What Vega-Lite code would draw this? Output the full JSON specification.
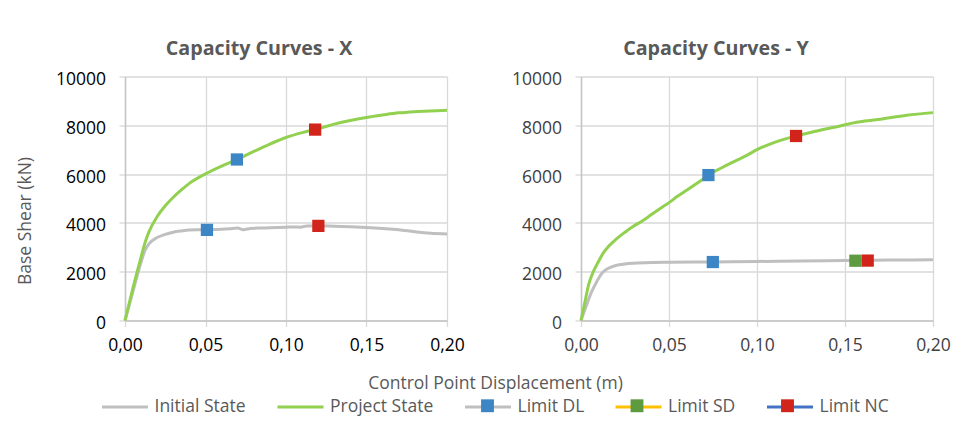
{
  "$schema": "https://vega.github.io/schema/vega-lite/v6.json",
  "padding": {"left": 16, "top": 38.5, "right": 0, "bottom": 0},
  "bounds": "flush",
  "spacing": 134,
  "background": "white",
  "datasets": {
    "curves": [
      {"panel": "X", "curve": "Initial State", "d": 0, "v": 0},
      {"panel": "X", "curve": "Initial State", "d": 0.005, "v": 1200},
      {"panel": "X", "curve": "Initial State", "d": 0.01, "v": 2400},
      {"panel": "X", "curve": "Initial State", "d": 0.0125, "v": 2880},
      {"panel": "X", "curve": "Initial State", "d": 0.015, "v": 3150},
      {"panel": "X", "curve": "Initial State", "d": 0.02, "v": 3400},
      {"panel": "X", "curve": "Initial State", "d": 0.025, "v": 3530},
      {"panel": "X", "curve": "Initial State", "d": 0.03, "v": 3620},
      {"panel": "X", "curve": "Initial State", "d": 0.035, "v": 3670},
      {"panel": "X", "curve": "Initial State", "d": 0.04, "v": 3705},
      {"panel": "X", "curve": "Initial State", "d": 0.045, "v": 3715},
      {"panel": "X", "curve": "Initial State", "d": 0.05, "v": 3715},
      {"panel": "X", "curve": "Initial State", "d": 0.055, "v": 3730},
      {"panel": "X", "curve": "Initial State", "d": 0.06, "v": 3740},
      {"panel": "X", "curve": "Initial State", "d": 0.065, "v": 3760},
      {"panel": "X", "curve": "Initial State", "d": 0.07, "v": 3790},
      {"panel": "X", "curve": "Initial State", "d": 0.0735, "v": 3720},
      {"panel": "X", "curve": "Initial State", "d": 0.078, "v": 3775},
      {"panel": "X", "curve": "Initial State", "d": 0.085, "v": 3790},
      {"panel": "X", "curve": "Initial State", "d": 0.09, "v": 3800},
      {"panel": "X", "curve": "Initial State", "d": 0.1, "v": 3825},
      {"panel": "X", "curve": "Initial State", "d": 0.105, "v": 3835},
      {"panel": "X", "curve": "Initial State", "d": 0.109, "v": 3825},
      {"panel": "X", "curve": "Initial State", "d": 0.113, "v": 3875},
      {"panel": "X", "curve": "Initial State", "d": 0.12, "v": 3880},
      {"panel": "X", "curve": "Initial State", "d": 0.13, "v": 3860},
      {"panel": "X", "curve": "Initial State", "d": 0.14, "v": 3840},
      {"panel": "X", "curve": "Initial State", "d": 0.15, "v": 3810},
      {"panel": "X", "curve": "Initial State", "d": 0.16, "v": 3770},
      {"panel": "X", "curve": "Initial State", "d": 0.17, "v": 3720},
      {"panel": "X", "curve": "Initial State", "d": 0.18, "v": 3640},
      {"panel": "X", "curve": "Initial State", "d": 0.19, "v": 3580},
      {"panel": "X", "curve": "Initial State", "d": 0.2, "v": 3550},
      {"panel": "X", "curve": "Project State", "d": 0, "v": 0},
      {"panel": "X", "curve": "Project State", "d": 0.005, "v": 1350},
      {"panel": "X", "curve": "Project State", "d": 0.01, "v": 2600},
      {"panel": "X", "curve": "Project State", "d": 0.0125, "v": 3200},
      {"panel": "X", "curve": "Project State", "d": 0.015, "v": 3650},
      {"panel": "X", "curve": "Project State", "d": 0.02, "v": 4260},
      {"panel": "X", "curve": "Project State", "d": 0.025, "v": 4700},
      {"panel": "X", "curve": "Project State", "d": 0.03, "v": 5050},
      {"panel": "X", "curve": "Project State", "d": 0.035, "v": 5350},
      {"panel": "X", "curve": "Project State", "d": 0.04, "v": 5620},
      {"panel": "X", "curve": "Project State", "d": 0.05, "v": 6010},
      {"panel": "X", "curve": "Project State", "d": 0.06, "v": 6330},
      {"panel": "X", "curve": "Project State", "d": 0.07, "v": 6610},
      {"panel": "X", "curve": "Project State", "d": 0.08, "v": 6930},
      {"panel": "X", "curve": "Project State", "d": 0.09, "v": 7230},
      {"panel": "X", "curve": "Project State", "d": 0.1, "v": 7500},
      {"panel": "X", "curve": "Project State", "d": 0.11, "v": 7700},
      {"panel": "X", "curve": "Project State", "d": 0.12, "v": 7860},
      {"panel": "X", "curve": "Project State", "d": 0.13, "v": 8050},
      {"panel": "X", "curve": "Project State", "d": 0.14, "v": 8200},
      {"panel": "X", "curve": "Project State", "d": 0.15, "v": 8320},
      {"panel": "X", "curve": "Project State", "d": 0.16, "v": 8420},
      {"panel": "X", "curve": "Project State", "d": 0.17, "v": 8510},
      {"panel": "X", "curve": "Project State", "d": 0.18, "v": 8560},
      {"panel": "X", "curve": "Project State", "d": 0.19, "v": 8590},
      {"panel": "X", "curve": "Project State", "d": 0.2, "v": 8612},
      {"panel": "Y", "curve": "Initial State", "d": 0, "v": 0},
      {"panel": "Y", "curve": "Initial State", "d": 0.003, "v": 600},
      {"panel": "Y", "curve": "Initial State", "d": 0.006, "v": 1170},
      {"panel": "Y", "curve": "Initial State", "d": 0.009, "v": 1600},
      {"panel": "Y", "curve": "Initial State", "d": 0.012, "v": 1950},
      {"panel": "Y", "curve": "Initial State", "d": 0.015, "v": 2120},
      {"panel": "Y", "curve": "Initial State", "d": 0.02, "v": 2260},
      {"panel": "Y", "curve": "Initial State", "d": 0.025, "v": 2315},
      {"panel": "Y", "curve": "Initial State", "d": 0.03, "v": 2345},
      {"panel": "Y", "curve": "Initial State", "d": 0.04, "v": 2375},
      {"panel": "Y", "curve": "Initial State", "d": 0.05, "v": 2385},
      {"panel": "Y", "curve": "Initial State", "d": 0.075, "v": 2400},
      {"panel": "Y", "curve": "Initial State", "d": 0.1, "v": 2420},
      {"panel": "Y", "curve": "Initial State", "d": 0.125, "v": 2440},
      {"panel": "Y", "curve": "Initial State", "d": 0.15, "v": 2460},
      {"panel": "Y", "curve": "Initial State", "d": 0.175, "v": 2475},
      {"panel": "Y", "curve": "Initial State", "d": 0.2, "v": 2485},
      {"panel": "Y", "curve": "Project State", "d": 0, "v": 0},
      {"panel": "Y", "curve": "Project State", "d": 0.0025, "v": 850},
      {"panel": "Y", "curve": "Project State", "d": 0.0043, "v": 1460},
      {"panel": "Y", "curve": "Project State", "d": 0.007, "v": 2000},
      {"panel": "Y", "curve": "Project State", "d": 0.01, "v": 2425},
      {"panel": "Y", "curve": "Project State", "d": 0.0125, "v": 2750},
      {"panel": "Y", "curve": "Project State", "d": 0.0157, "v": 3040},
      {"panel": "Y", "curve": "Project State", "d": 0.02, "v": 3340},
      {"panel": "Y", "curve": "Project State", "d": 0.025, "v": 3620},
      {"panel": "Y", "curve": "Project State", "d": 0.03, "v": 3870},
      {"panel": "Y", "curve": "Project State", "d": 0.035, "v": 4090},
      {"panel": "Y", "curve": "Project State", "d": 0.04, "v": 4340},
      {"panel": "Y", "curve": "Project State", "d": 0.045, "v": 4590},
      {"panel": "Y", "curve": "Project State", "d": 0.05, "v": 4830},
      {"panel": "Y", "curve": "Project State", "d": 0.055, "v": 5100},
      {"panel": "Y", "curve": "Project State", "d": 0.06, "v": 5340},
      {"panel": "Y", "curve": "Project State", "d": 0.065, "v": 5580},
      {"panel": "Y", "curve": "Project State", "d": 0.07, "v": 5830},
      {"panel": "Y", "curve": "Project State", "d": 0.0724, "v": 5960},
      {"panel": "Y", "curve": "Project State", "d": 0.08, "v": 6260},
      {"panel": "Y", "curve": "Project State", "d": 0.0876, "v": 6535},
      {"panel": "Y", "curve": "Project State", "d": 0.095, "v": 6800},
      {"panel": "Y", "curve": "Project State", "d": 0.1, "v": 7000},
      {"panel": "Y", "curve": "Project State", "d": 0.11, "v": 7300},
      {"panel": "Y", "curve": "Project State", "d": 0.1222, "v": 7562},
      {"panel": "Y", "curve": "Project State", "d": 0.134, "v": 7768},
      {"panel": "Y", "curve": "Project State", "d": 0.1472, "v": 7974},
      {"panel": "Y", "curve": "Project State", "d": 0.1548, "v": 8100},
      {"panel": "Y", "curve": "Project State", "d": 0.1699, "v": 8245},
      {"panel": "Y", "curve": "Project State", "d": 0.1851, "v": 8409},
      {"panel": "Y", "curve": "Project State", "d": 0.2, "v": 8520}
    ],
    "limits": [
      {"panel": "X", "limit": "Limit DL", "d": 0.0509, "v": 3714},
      {"panel": "X", "limit": "Limit NC", "d": 0.1201, "v": 3878},
      {"panel": "X", "limit": "Limit DL", "d": 0.0695, "v": 6599},
      {"panel": "X", "limit": "Limit NC", "d": 0.1181, "v": 7824},
      {"panel": "Y", "limit": "Limit DL", "d": 0.0749, "v": 2396},
      {"panel": "Y", "limit": "Limit SD", "d": 0.1559, "v": 2450},
      {"panel": "Y", "limit": "Limit NC", "d": 0.1629, "v": 2455},
      {"panel": "Y", "limit": "Limit DL", "d": 0.0724, "v": 5960},
      {"panel": "Y", "limit": "Limit NC", "d": 0.1222, "v": 7562}
    ]
  },
  "config": {
    "font": "Open Sans",
    "view": {"stroke": null},
    "axis": {
      "gridColor": "#D9D9D9",
      "gridWidth": 1.3,
      "domainColor": "#C4C4C4",
      "domainWidth": 1.5,
      "tickColor": "#D9D9D9",
      "tickWidth": 1.3,
      "tickSize": 6,
      "labelFont": "Open Sans",
      "labelFontSize": 17.5,
      "titleFont": "Open Sans",
      "titleFontSize": 17.5,
      "titleFontWeight": "normal",
      "titleColor": "#595959"
    },
    "title": {"font": "Open Sans", "fontSize": 19.7, "fontWeight": "bold", "color": "#595959", "baseline": "alphabetic", "offset": 11.5, "anchor": "middle", "frame": "group"}
  },
  "hconcat": [
    {
      "width": 322,
      "height": 244,
      "title": {"text": "Capacity Curves - X", "dx": -27},
      "layer": [
        {
          "data": {"name": "curves"},
          "transform": [{"filter": "datum.panel === 'X'"}],
          "mark": {"type": "line", "strokeWidth": 3, "interpolate": "monotone"},
          "encoding": {
            "x": {"field": "d", "type": "quantitative", "scale": {"domain": [0, 0.2], "nice": false},
              "axis": {"values": [0, 0.05, 0.1, 0.15, 0.2], "labelExpr": "replace(format(datum.value, '.2f'), '.', ',')", "labelColor": "#000000", "labelPadding": 10, "labelFlush": false,
                "title": "Control Point Displacement (m)", "titleX": 370, "titleY": 68, "titleBaseline": "alphabetic"}},
            "y": {"field": "v", "type": "quantitative", "scale": {"domain": [0, 10000], "nice": false},
              "axis": {"values": [0, 2000, 4000, 6000, 8000, 10000], "format": "d", "labelColor": "#000000", "labelPadding": 13.5, "labelOffset": 3,
                "title": "Base Shear (kN)", "titleX": -100, "titleY": 144, "titleBaseline": "middle"}},
            "stroke": {"field": "curve", "type": "nominal",
              "scale": {"domain": ["Initial State", "Project State", "Limit DL", "Limit SD", "Limit NC"], "range": ["#BFBFBF", "#92D050", "#BFBFBF", "#FFC000", "#4472C4"]},
              "legend": {"orient": "none", "legendX": -24.5, "legendY": 306, "direction": "horizontal", "columns": 5, "title": null, "symbolType": "stroke", "symbolSize": 2116, "symbolStrokeWidth": 3, "labelFontSize": 17.5, "labelFont": "Open Sans", "labelColor": "#595959", "labelOffset": 5, "columnPadding": 24.5, "padding": 0, "labelLimit": 300}}
          }
        },
        {
          "data": {"name": "limits"},
          "transform": [{"filter": "datum.panel === 'X'"}],
          "mark": {"type": "square", "size": 150, "filled": true, "opacity": 1, "strokeWidth": 0},
          "encoding": {
            "x": {"field": "d", "type": "quantitative"},
            "y": {"field": "v", "type": "quantitative"},
            "fill": {"field": "limit", "type": "nominal",
              "scale": {"domain": ["Initial State", "Project State", "Limit DL", "Limit SD", "Limit NC", "none"], "range": ["rgba(0,0,0,0)", "rgba(0,0,0,0)", "#3C86C5", "#5E9A3F", "#D1241A", "rgba(0,0,0,0)"]},
              "legend": {"orient": "none", "legendX": -21.5, "legendY": 306, "direction": "horizontal", "columns": 5, "title": null, "values": ["Initial State", "Project State", "Limit DL", "Limit SD", "Limit NC"], "symbolType": "M-0.28,-0.28H0.28V0.28H-0.28Z", "symbolSize": 2116, "symbolStrokeWidth": 0, "labelFontSize": 17.5, "labelFont": "Open Sans", "labelColor": "rgba(0,0,0,0)", "labelOffset": 5, "columnPadding": 31.5, "padding": 0, "labelLimit": 300, "zindex": 2}}
          }
        }
      ]
    },
    {
      "width": 352,
      "height": 244,
      "title": {"text": "Capacity Curves - Y", "dx": -41},
      "layer": [
        {
          "data": {"name": "curves"},
          "transform": [{"filter": "datum.panel === 'Y'"}],
          "mark": {"type": "line", "strokeWidth": 3, "interpolate": "monotone"},
          "encoding": {
            "x": {"field": "d", "type": "quantitative", "scale": {"domain": [0, 0.2], "nice": false},
              "axis": {"values": [0, 0.05, 0.1, 0.15, 0.2], "labelExpr": "replace(format(datum.value, '.2f'), '.', ',')", "labelColor": "#404040", "labelPadding": 10, "labelFlush": false, "title": null}},
            "y": {"field": "v", "type": "quantitative", "scale": {"domain": [0, 10000], "nice": false},
              "axis": {"values": [0, 2000, 4000, 6000, 8000, 10000], "format": "d", "labelColor": "#404040", "labelPadding": 13.5, "labelOffset": 3, "title": null}},
            "stroke": {"field": "curve", "type": "nominal",
              "scale": {"domain": ["Initial State", "Project State", "Limit DL", "Limit SD", "Limit NC"], "range": ["#BFBFBF", "#92D050", "#BFBFBF", "#FFC000", "#4472C4"]},
              "legend": {"orient": "none", "legendX": -24.5, "legendY": 306, "direction": "horizontal", "columns": 5, "title": null, "symbolType": "stroke", "symbolSize": 2116, "symbolStrokeWidth": 3, "labelFontSize": 17.5, "labelFont": "Open Sans", "labelColor": "#595959", "labelOffset": 5, "columnPadding": 24.5, "padding": 0, "labelLimit": 300}}
          }
        },
        {
          "data": {"name": "limits"},
          "transform": [{"filter": "datum.panel === 'Y'"}],
          "mark": {"type": "square", "size": 150, "filled": true, "opacity": 1, "strokeWidth": 0},
          "encoding": {
            "x": {"field": "d", "type": "quantitative"},
            "y": {"field": "v", "type": "quantitative"},
            "fill": {"field": "limit", "type": "nominal",
              "scale": {"domain": ["Initial State", "Project State", "Limit DL", "Limit SD", "Limit NC", "none"], "range": ["rgba(0,0,0,0)", "rgba(0,0,0,0)", "#3C86C5", "#5E9A3F", "#D1241A", "rgba(0,0,0,0)"]},
              "legend": {"orient": "none", "legendX": -21.5, "legendY": 306, "direction": "horizontal", "columns": 5, "title": null, "values": ["Initial State", "Project State", "Limit DL", "Limit SD", "Limit NC"], "symbolType": "M-0.28,-0.28H0.28V0.28H-0.28Z", "symbolSize": 2116, "symbolStrokeWidth": 0, "labelFontSize": 17.5, "labelFont": "Open Sans", "labelColor": "rgba(0,0,0,0)", "labelOffset": 5, "columnPadding": 31.5, "padding": 0, "labelLimit": 300, "zindex": 2}}
          }
        }
      ]
    }
  ]
}
